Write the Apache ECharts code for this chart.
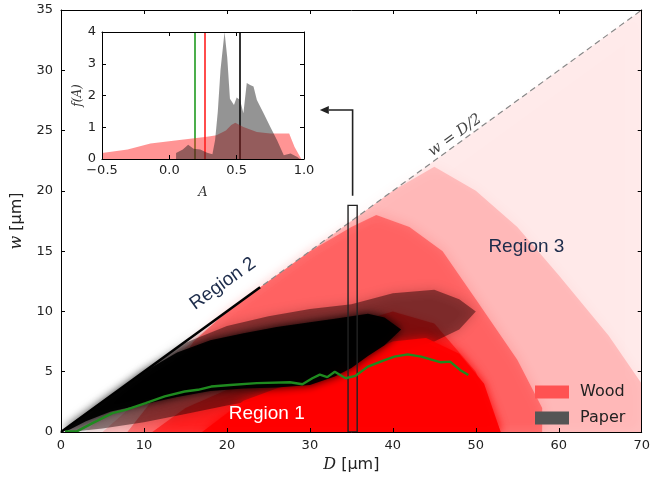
<!DOCTYPE html>
<html>
<head>
<meta charset="utf-8">
<script src="https://cdn.jsdelivr.net/npm/echarts@6/dist/echarts.min.js"></script>
<style>
  html, body { margin: 0; padding: 0; background: #fff; }
  #chart { width: 653px; height: 478px; }
</style>
</head>
<body>
<div id="chart"></div>
<script>
// main panel: median curve of paper fibres (green)
const greenD = [0.5, 1.9, 3.8, 6.2, 7.8, 10.2, 12.5, 14.9, 16.5, 18.1, 20.4, 23.6, 27.6, 29.1, 30.3, 31.2, 32.1, 33.0, 34.3, 35.5, 37.0, 39.0, 40.2, 41.8, 43.4, 45.8, 46.9, 48.1, 49.1];
const greenW = [0.05, 0.05, 0.74, 1.57, 1.84, 2.4, 2.95, 3.36, 3.5, 3.77, 3.9, 4.05, 4.13, 3.96, 4.46, 4.76, 4.55, 5.0, 4.46, 4.66, 5.42, 5.97, 6.25, 6.44, 6.25, 5.78, 5.84, 5.15, 4.73];

// point-cloud density bands (D, lower w, upper w)
const woodSparseD = [3, 8, 20, 40, 70];
const woodSparseLo = [0, 0, 0, 0, 0];
const woodSparseHi = [0, 3.5, 10, 20, 35];

const woodLightD = [5, 10, 15, 20, 30, 40, 45, 50, 55, 60, 66, 70];
const woodLightLo = [0, 0, 0, 0, 0, 0, 0, 0, 0, 0, 0, 0];
const woodLightHi = [0, 3, 7, 10, 15, 20, 22, 20, 17, 13, 8, 4];

const woodMidD = [8, 12, 16, 20, 25, 30, 35, 38, 42, 46, 50, 55, 58];
const woodMidLo = [0, 0, 0, 0, 0, 0, 0, 0, 0, 0, 0, 0, 0];
const woodMidHi = [0, 3.5, 7.5, 10, 12.5, 15, 17, 18, 17, 15, 11, 6, 2];

const woodStrongD = [11, 15, 20, 25, 30, 35, 40, 45, 50, 53];
const woodStrongLo = [0, 0, 0, 0, 0, 0, 0, 0, 0, 0];
const woodStrongHi = [0, 2, 3.5, 5, 7, 9, 10, 9, 5, 0];

const woodDenseD = [17, 22, 26, 30, 35, 40, 44, 48, 51, 53];
const woodDenseLo = [0, 0, 0, 0, 0, 0, 0, 0, 0, 0];
const woodDenseHi = [0, 2.6, 3.6, 4.5, 6, 7.5, 7.8, 6.5, 4, 0];

const paperHaloD = [1, 5, 10, 15, 20, 25, 30, 35, 40, 45, 48, 50];
const paperHaloLo = [0, 0.3, 0.8, 1.5, 2.2, 2.8, 3.3, 4.5, 6.5, 7.5, 8.5, 10];
const paperHaloHi = [0.6, 2.6, 5.0, 7.4, 8.8, 9.6, 10.2, 10.6, 11.5, 11.8, 11, 10];

const paperCoreD = [0.5, 3, 6, 10, 14, 18, 22, 26, 30, 33, 35, 37, 39, 41];
const paperCoreLo = [0, 0.9, 1.7, 2.3, 2.9, 3.4, 3.6, 3.7, 3.9, 4.6, 5.3, 6.3, 7.2, 8.5];
const paperCoreHi = [0.3, 1.5, 3.0, 5.0, 6.6, 7.6, 8.2, 8.7, 9.1, 9.4, 9.6, 9.8, 9.5, 8.5];

// guide lines
const diagD = [0, 70];
const diagW = [0, 35];
const edgeD = [0, 24];
const edgeW = [0, 12];
const boxD = [34.6, 35.7];
const boxW = [0, 18.8];
const arrowD = [35.15, 35.15, 31.2];
const arrowW = [19.6, 26.7, 26.7];

// inset: distributions f(A)
const woodA = [-0.5, -0.31, -0.14, 0.06, 0.28, 0.35, 0.42, 0.46, 0.49, 0.55, 0.65, 0.75, 0.89, 0.93, 0.98];
const woodF = [0.19, 0.3, 0.49, 0.59, 0.7, 0.75, 0.9, 1.07, 1.14, 1.01, 0.85, 0.8, 0.8, 0.38, 0.0];
const paperA = [0.05, 0.1, 0.14, 0.18, 0.23, 0.28, 0.32, 0.34, 0.36, 0.38, 0.41, 0.43, 0.45, 0.48, 0.5, 0.525, 0.55, 0.575, 0.6, 0.625, 0.65, 0.7, 0.75, 0.8, 0.85, 0.9, 0.95, 0.97];
const paperF = [0.19, 0.3, 0.45, 0.32, 0.3, 0.2, 0.15, 0.6, 1.5, 2.8, 4.0, 3.2, 1.9, 1.7, 1.94, 1.86, 1.44, 2.39, 2.33, 2.28, 1.86, 1.44, 1.01, 0.59, 0.12, 0.17, 0.06, 0];
const medianGreen = 0.187;
const medianRed = 0.261;
const medianBlack = 0.523;

const FONT = 'DejaVu Sans';
const zip = (a, b) => a.map((v, i) => [v, b[i]]);

function band(D, lo, hi, color, blur) {
  const pts = zip(D, hi).concat(zip(D, lo).reverse());
  return {
    type: 'custom', xAxisIndex: 0, yAxisIndex: 0, silent: true, z: 1, clip: true,
    data: [0],
    renderItem: (params, api) => ({
      type: 'polygon',
      shape: { points: pts.map(p => api.coord(p)) },
      style: { fill: color, shadowBlur: blur, shadowColor: color }
    })
  };
}

function plainLine(data, color, width, type, z) {
  return {
    type: 'line', xAxisIndex: 0, yAxisIndex: 0, data: data, symbol: 'none',
    silent: true, z: z,
    lineStyle: { color: color, width: width, type: type }
  };
}

const tickStyle = { inside: true, length: 4, lineStyle: { color: '#000' } };
const lineStyle = { onZero: false, lineStyle: { color: '#000', width: 1 } };
const labelStyle = { color: '#222', fontFamily: FONT, fontSize: 13 };
const italic = { fontStyle: 'italic', fontFamily: 'DejaVu Serif', fontSize: 16, color: '#222' };

function frameAxis(grid, pos, min, max, interval) {
  return {
    gridIndex: grid, type: 'value', min: min, max: max, interval: interval, position: pos, z: 10,
    axisLine: lineStyle, axisTick: tickStyle, axisLabel: { show: false }, splitLine: { show: false }
  };
}

const dom = document.getElementById('chart');
const chart = echarts.init(dom);

const option = {
  animation: false,
  textStyle: { fontFamily: FONT },
  grid: [
    { left: 61, top: 10, right: 2, bottom: 44 },
    { left: 102, top: 32, width: 202, height: 127, show: true, backgroundColor: '#fff', borderWidth: 0, z: 5 }
  ],
  xAxis: [
    {
      gridIndex: 0, type: 'value', min: 0, max: 70, interval: 10, z: 10,
      axisLine: lineStyle, axisTick: tickStyle, splitLine: { show: false },
      axisLabel: Object.assign({ margin: 7 }, labelStyle),
      name: '{i|D} [µm]', nameLocation: 'middle', nameGap: 25,
      nameTextStyle: { fontSize: 16, color: '#222', rich: { i: italic } }
    },
    frameAxis(0, 'top', 0, 70, 10),
    {
      gridIndex: 1, type: 'value', min: -0.5, max: 1.0, interval: 0.5, z: 10,
      axisLine: lineStyle, axisTick: tickStyle, splitLine: { show: false },
      axisLabel: Object.assign({ margin: 5, formatter: v => v.toFixed(1).replace('-', '−') }, labelStyle),
      name: 'A', nameLocation: 'middle', nameGap: 27,
      nameTextStyle: { fontSize: 13, fontStyle: 'italic', fontFamily: 'DejaVu Serif', color: '#333' }
    },
    frameAxis(1, 'top', -0.5, 1.0, 0.5)
  ],
  yAxis: [
    {
      gridIndex: 0, type: 'value', min: 0, max: 35, interval: 5, z: 10,
      axisLine: lineStyle, axisTick: tickStyle, splitLine: { show: false },
      axisLabel: Object.assign({ margin: 8 }, labelStyle),
      name: '{i|w} [µm]', nameLocation: 'middle', nameGap: 36, nameRotate: 90,
      nameTextStyle: { fontSize: 16, color: '#222', rich: { i: italic } }
    },
    frameAxis(0, 'right', 0, 35, 5),
    {
      gridIndex: 1, type: 'value', min: 0, max: 4, interval: 1, z: 10,
      axisLine: lineStyle, axisTick: tickStyle, splitLine: { show: false },
      axisLabel: Object.assign({ margin: 6 }, labelStyle),
      name: 'f(A)', nameLocation: 'middle', nameGap: 18, nameRotate: 90,
      nameTextStyle: { fontSize: 12, fontStyle: 'italic', fontFamily: 'DejaVu Serif', color: '#333' }
    },
    frameAxis(1, 'right', 0, 4, 1)
  ],
  legend: {
    data: [
      { name: 'Wood', icon: 'rect', itemStyle: { color: '#ff5252' } },
      { name: 'Paper', icon: 'rect', itemStyle: { color: '#555' } }
    ],
    orient: 'vertical', left: 530, top: 379, itemWidth: 34, itemHeight: 13, itemGap: 10,
    selectedMode: false,
    textStyle: { fontSize: 16, color: '#222', fontFamily: FONT, padding: [0, 0, 0, 6] }
  },
  series: [
    band(woodSparseD, woodSparseLo, woodSparseHi, 'rgba(255,60,60,0.10)', 14),
    band(woodLightD, woodLightLo, woodLightHi, 'rgba(255,40,40,0.22)', 14),
    band(woodMidD, woodMidLo, woodMidHi, 'rgba(255,20,20,0.42)', 12),
    band(woodStrongD, woodStrongLo, woodStrongHi, 'rgba(255,0,0,0.55)', 12),
    band(paperHaloD, paperHaloLo, paperHaloHi, 'rgba(25,0,0,0.45)', 12),
    band(woodDenseD, woodDenseLo, woodDenseHi, 'rgba(255,0,0,0.9)', 10),
    band(paperCoreD, paperCoreLo, paperCoreHi, 'rgba(0,0,0,0.95)', 8),
    plainLine(zip(diagD, diagW), '#888', 1.2, [6, 4], 3),
    plainLine(zip(edgeD, edgeW), '#000', 2.6, 'solid', 3),
    plainLine(zip(greenD, greenW), '#1f8a1f', 2.4, 'solid', 4),
    {
      type: 'custom', xAxisIndex: 0, yAxisIndex: 0, silent: true, z: 4, data: [0],
      renderItem: (params, api) => {
        const a = api.coord([boxD[0], boxW[0]]);
        const b = api.coord([boxD[1], boxW[1]]);
        return {
          type: 'rect',
          shape: { x: a[0], y: b[1], width: b[0] - a[0], height: a[1] - b[1] },
          style: { fill: null, stroke: '#222', lineWidth: 1.4 }
        };
      }
    },
    {
      type: 'custom', xAxisIndex: 0, yAxisIndex: 0, silent: true, z: 4, data: [0],
      renderItem: (params, api) => {
        const pts = zip(arrowD, arrowW).map(p => api.coord(p));
        const tip = pts[pts.length - 1];
        const prev = pts[pts.length - 2];
        const ang = Math.atan2(tip[1] - prev[1], tip[0] - prev[0]);
        const L = 9, H = 4;
        const base = [tip[0] - L * Math.cos(ang), tip[1] - L * Math.sin(ang)];
        const left = [base[0] + H * Math.sin(ang), base[1] - H * Math.cos(ang)];
        const right = [base[0] - H * Math.sin(ang), base[1] + H * Math.cos(ang)];
        const shaft = pts.slice(0, -1).concat([base]);
        return {
          type: 'group',
          children: [
            { type: 'polyline', shape: { points: shaft }, style: { stroke: '#222', lineWidth: 1.6, fill: null } },
            { type: 'polygon', shape: { points: [tip, left, right] }, style: { fill: '#222' } }
          ]
        };
      }
    },
    {
      name: 'Wood', type: 'line', xAxisIndex: 2, yAxisIndex: 2, z: 6,
      data: zip(woodA, woodF), symbol: 'none',
      lineStyle: { width: 0 }, itemStyle: { color: '#ff5252' },
      areaStyle: { color: 'rgba(255,30,30,0.68)', origin: 'start' }
    },
    {
      name: 'Paper', type: 'line', xAxisIndex: 2, yAxisIndex: 2, z: 7,
      data: zip(paperA, paperF), symbol: 'none',
      lineStyle: { width: 0 }, itemStyle: { color: '#555' },
      areaStyle: { color: 'rgba(30,30,30,0.68)', origin: 'start' },
      markLine: {
        silent: true, symbol: 'none', label: { show: false },
        data: [
          { xAxis: medianGreen, lineStyle: { color: '#1f9a1f', width: 1.6, type: 'solid' } },
          { xAxis: medianRed, lineStyle: { color: '#ff2020', width: 1.6, type: 'solid' } },
          { xAxis: medianBlack, lineStyle: { color: '#000', width: 1.6, type: 'solid' } }
        ]
      }
    }
  ]
};

chart.setOption(option);

// text annotations, anchored to data coordinates
const notes = [
  { text: 'Region 2', at: [19.5, 12.3], rot: 35.7, color: '#1c2b4a', size: 19, font: 'Liberation Sans', italic: false },
  { text: 'w = D/2', at: [47.5, 24.6], rot: 35.7, color: '#444', size: 15, font: 'DejaVu Serif', italic: true },
  { text: 'Region 3', at: [56.1, 15.4], rot: 0, color: '#1c2b4a', size: 19, font: 'Liberation Sans', italic: false },
  { text: 'Region 1', at: [24.8, 1.5], rot: 0, color: '#fff', size: 19, font: 'Liberation Sans', italic: false }
];

chart.setOption({
  graphic: notes.map(n => {
    const p = chart.convertToPixel({ xAxisIndex: 0, yAxisIndex: 0 }, n.at);
    return {
      type: 'text', x: p[0], y: p[1], rotation: n.rot * Math.PI / 180, z: 20, silent: true,
      style: {
        text: n.text, fill: n.color, fontSize: n.size, fontFamily: n.font,
        fontStyle: n.italic ? 'italic' : 'normal', align: 'center', verticalAlign: 'middle'
      }
    };
  })
});

window.addEventListener('resize', chart.resize);
</script>
</body>
</html>
